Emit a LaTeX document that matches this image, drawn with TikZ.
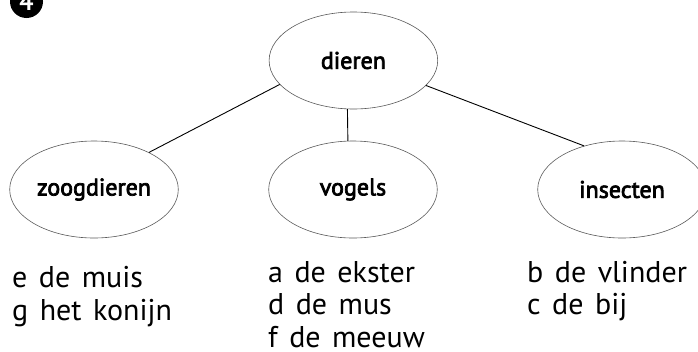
\documentclass[tikz,border=0pt]{standalone}
\usepackage{fontspec}
\setmainfont{PT Sans}
\newfontfamily\lblfont[FakeBold=3]{PT Sans}
\usetikzlibrary{shapes.geometric}
\begin{document}
\begin{tikzpicture}[x=1pt,y=-1pt,
  cat/.style={ellipse,draw=black!65,line width=0.6pt,minimum width=168.6pt,minimum height=97pt,inner sep=0pt,font=\lblfont\fontsize{24}{27}\selectfont},
  link/.style={draw=black,line width=0.9pt},
  item/.style={anchor=base west,inner sep=0pt,font=\fontsize{30}{33}\selectfont,execute at begin node={\spaceskip=11.5pt plus 2pt minus 1pt\relax}}]
\useasboundingbox (0,0) rectangle (698,351);
\node[circle,fill=black,minimum size=33pt,inner sep=0pt,text=white,font=\fontsize{25}{27}\selectfont\bfseries] (badge) at (26.5,1.5) {4};
\node[cat] (dieren) at (353.4,60.5) {dieren};
\node[cat] (zoog) at (94,189.5) {zoogdieren};
\node[cat] (vogels) at (353,189.5) {vogels};
\node[cat] (insecten) at (622,189.5) {insecten};
\draw[link] (dieren.198.2) -- (zoog.34.3);
\draw[link] (dieren.263.3) -- (vogels.96.5);
\draw[link] (dieren.341.6) -- (insecten.131.9);
\node[item] (z1) at (12,287) {e de muis};
\node[item] (z2) at (12,320) {g het konijn};
\node[item] (v1) at (268,282) {a de ekster};
\node[item] (v2) at (268,314.5) {d de mus};
\node[item] (v3) at (268,347) {f de meeuw};
\node[item] (i1) at (527,282) {b de vlinder};
\node[item] (i2) at (527,314.5) {c de bij};
\end{tikzpicture}
\end{document}
